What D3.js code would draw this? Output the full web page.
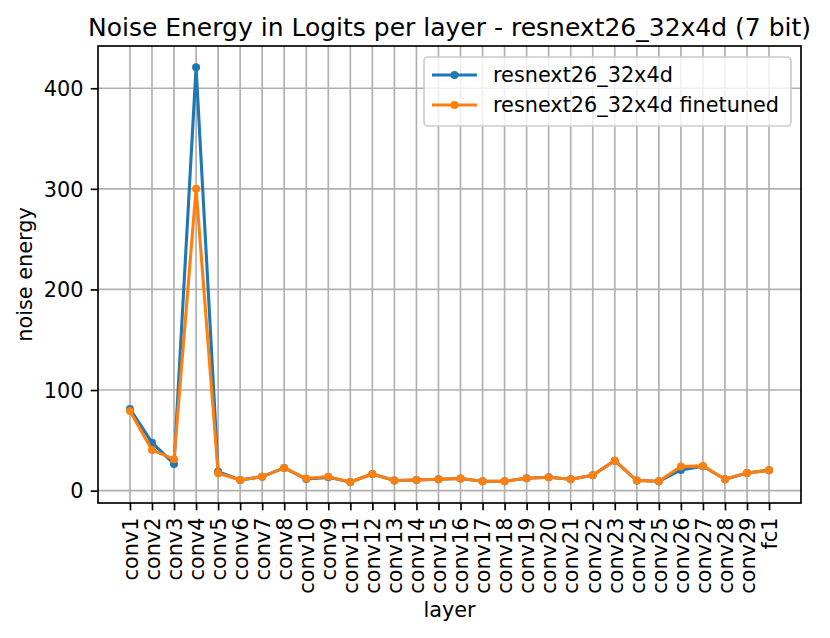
<!DOCTYPE html>
<html>
<head>
<meta charset="utf-8">
<script src="https://cdn.jsdelivr.net/npm/d3@7"></script>
<style>
  body { margin: 0; background: #fff; }
  text { font-family: "DejaVu Sans", sans-serif; fill: #000; }
</style>
</head>
<body>
<div id="chart"></div>
<script>
// layers, in the order they appear on the x axis
const layers = ["conv1","conv2","conv3","conv4","conv5","conv6","conv7","conv8","conv10","conv9",
  "conv11","conv12","conv13","conv14","conv15","conv16","conv17","conv18","conv19","conv20",
  "conv21","conv22","conv23","conv24","conv25","conv26","conv27","conv28","conv29","fc1"];

const baseValues = [81.2, 47.7, 26.5, 420.9, 18.9, 10.6, 13.9, 22.6, 11.5, 13.2,
  8.6, 16.6, 10.0, 10.6, 11.3, 12.0, 9.3, 9.3, 12.3, 13.3,
  11.3, 15.3, 29.8, 10.0, 9.3, 20.6, 24.2, 11.3, 17.6, 20.3];

const tunedValues = [79.2, 40.5, 31.2, 300.0, 17.3, 10.6, 13.9, 22.6, 12.0, 13.9,
  8.6, 16.6, 10.0, 10.6, 11.3, 12.0, 9.3, 9.3, 12.3, 13.3,
  11.3, 15.3, 29.8, 10.0, 9.3, 23.9, 24.6, 11.3, 17.6, 20.3];

const seriesNames = ["resnext26_32x4d", "resnext26_32x4d finetuned"];
const seriesColors = ["#1f77b4", "#ff7f0e"];
const yTicks = [0, 100, 200, 300, 400];

const width = 830, height = 638;
const margin = {top: 46, right: 29, bottom: 135, left: 98};
const iw = width - margin.left - margin.right;
const ih = height - margin.top - margin.bottom;
const fs = 20.8;   // 10pt at 150 dpi
const lw = 1.67;   // 0.8pt

const svg = d3.select('#chart').append('svg')
    .attr('width', width)
    .attr('height', height);

// x: index positions with matplotlib-like 5% margins
const n = layers.length;
const x = d3.scaleLinear()
    .domain([-0.05 * (n - 1), (n - 1) * 1.05])
    .range([0, iw]);

const y = d3.scaleLinear()
    .domain([-12.3, 442])
    .range([ih, 0]);

const g = svg.append('g').attr('transform', `translate(${margin.left},${margin.top})`);

// grid
g.append('g').selectAll('line')
    .data(layers)
    .enter().append('line')
    .attr('x1', (d, i) => x(i)).attr('x2', (d, i) => x(i))
    .attr('y1', 0).attr('y2', ih)
    .attr('stroke', '#b0b0b0').attr('stroke-width', lw);

g.append('g').selectAll('line')
    .data(yTicks)
    .enter().append('line')
    .attr('x1', 0).attr('x2', iw)
    .attr('y1', d => y(d)).attr('y2', d => y(d))
    .attr('stroke', '#b0b0b0').attr('stroke-width', lw);

// axes
const xAxis = d3.axisBottom(x)
    .tickValues(d3.range(n))
    .tickFormat(i => layers[i])
    .tickSize(7.3);
const gx = g.append('g')
    .attr('transform', `translate(0,${ih})`)
    .call(xAxis);
gx.select('.domain').remove();
gx.selectAll('line').attr('stroke', '#000').attr('stroke-width', lw);
gx.selectAll('text')
    .style('font-size', fs + 'px')
    .attr('transform', 'rotate(-90)')
    .attr('text-anchor', 'end')
    .attr('x', -14.6)
    .attr('y', 0)
    .attr('dy', '0.35em');

const yAxis = d3.axisLeft(y)
    .tickValues(yTicks)
    .tickSize(7.3).tickPadding(7.3);
const gy = g.append('g').call(yAxis);
gy.select('.domain').remove();
gy.selectAll('line').attr('stroke', '#000').attr('stroke-width', lw);
gy.selectAll('text').style('font-size', fs + 'px').attr('dy', '0.35em');

// series
const series = [baseValues, tunedValues];
const line = d3.line()
    .x((d, i) => x(i))
    .y(d => y(d));

series.forEach(function(vals, s) {
  g.append('path')
      .datum(vals)
      .attr('fill', 'none')
      .attr('stroke', seriesColors[s])
      .attr('stroke-width', 3.1)
      .attr('stroke-linejoin', 'round')
      .attr('d', line);
  g.append('g').selectAll('circle')
      .data(vals)
      .enter().append('circle')
      .attr('cx', (d, i) => x(i))
      .attr('cy', d => y(d))
      .attr('r', 4)
      .attr('fill', seriesColors[s]);
});

// frame
g.append('rect')
    .attr('width', iw).attr('height', ih)
    .attr('fill', 'none')
    .attr('stroke', '#000').attr('stroke-width', lw);

// legend
const lg = svg.append('g').attr('transform', 'translate(424,57)');
lg.append('rect')
    .attr('width', 367).attr('height', 69)
    .attr('rx', 4).attr('ry', 4)
    .attr('fill', '#fff').attr('fill-opacity', 0.8)
    .attr('stroke', '#cccccc').attr('stroke-width', lw);
seriesNames.forEach(function(name, s) {
  const yy = 18 + s * 30;
  lg.append('line')
      .attr('x1', 8).attr('x2', 53)
      .attr('y1', yy).attr('y2', yy)
      .attr('stroke', seriesColors[s]).attr('stroke-width', 3.1);
  lg.append('circle')
      .attr('cx', 30.5).attr('cy', yy).attr('r', 4)
      .attr('fill', seriesColors[s]);
  lg.append('text')
      .attr('x', 69).attr('y', yy)
      .attr('dy', '0.35em')
      .style('font-size', fs + 'px')
      .text(name);
});

// title and axis labels
svg.append('text')
    .attr('x', margin.left + iw / 2).attr('y', 36)
    .attr('text-anchor', 'middle')
    .style('font-size', '25px')
    .text('Noise Energy in Logits per layer - resnext26_32x4d (7 bit)');

svg.append('text')
    .attr('x', margin.left + iw / 2).attr('y', 617)
    .attr('text-anchor', 'middle')
    .style('font-size', fs + 'px')
    .text('layer');

svg.append('text')
    .attr('transform', `translate(32,${margin.top + ih / 2}) rotate(-90)`)
    .attr('text-anchor', 'middle')
    .style('font-size', fs + 'px')
    .text('noise energy');
</script>
</body>
</html>
